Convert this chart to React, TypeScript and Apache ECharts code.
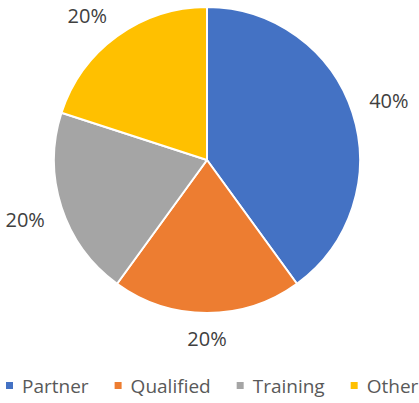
import React, { useEffect, useRef } from "react";
import * as echarts from "echarts";

const categories = ["Partner", "Qualified", "Training", "Other"];
const values = [40, 20, 20, 20];
const colors = ["#4472C4", "#ED7D31", "#A5A5A5", "#FFC000"];

const CX = 207;
const CY = 160;
const R = 153;
const LABEL_EDGE = 170;
const HALF_H = 8;

export default function App() {
  const ref = useRef<HTMLDivElement>(null);
  useEffect(() => {
    const chart = echarts.init(ref.current!, null, { renderer: "svg" });
    const data = categories.map((name, i) => ({ name, value: values[i] }));
    chart.setOption({
      animation: false,
      color: colors,
      legend: {
        top: 376,
        left: 4,
        padding: 0,
        icon: "rect",
        itemWidth: 9,
        itemHeight: 9,
        itemGap: 24,
        textStyle: {
          fontFamily: "Open Sans",
          fontSize: 19,
          color: "#595959",
          padding: [0, 0, 0, 3],
        },
        data: categories,
      },
      series: [
        {
          type: "pie",
          center: [CX, CY],
          radius: [0, R],
          startAngle: 90,
          clockwise: true,
          data,
          itemStyle: { borderColor: "#ffffff", borderWidth: 2 },
          label: {
            show: true,
            position: "inside",
            formatter: "{d}%",
            fontFamily: "Open Sans",
            fontSize: 20,
            color: "#404040",
          },
          labelLine: { show: false },
          labelLayout: (p: any) => {
            const r = p.labelRect;
            const cx = r.x + r.width / 2;
            const cy = r.y + r.height / 2;
            let dx = cx - CX;
            let dy = cy - CY;
            const len = Math.sqrt(dx * dx + dy * dy) || 1;
            dx /= len;
            dy /= len;
            const d = LABEL_EDGE + (r.width / 2) * Math.abs(dx) + HALF_H * Math.abs(dy);
            let x = CX + dx * d;
            let y = CY + dy * d;
            const topBound = CY - R + HALF_H;
            if (y < topBound) {
              y = topBound;
              const ddy = y - CY;
              x = CX + Math.sign(dx) * Math.sqrt(Math.max(0, d * d - ddy * ddy));
            }
            return { x, y, align: "center", verticalAlign: "middle" };
          },
          emphasis: { disabled: true },
        },
      ],
    });
    return () => chart.dispose();
  }, []);
  return (
    <div
      ref={ref}
      style={{ position: "fixed", left: 0, top: 0, width: 419, height: 403, background: "#fff" }}
    />
  );
}
